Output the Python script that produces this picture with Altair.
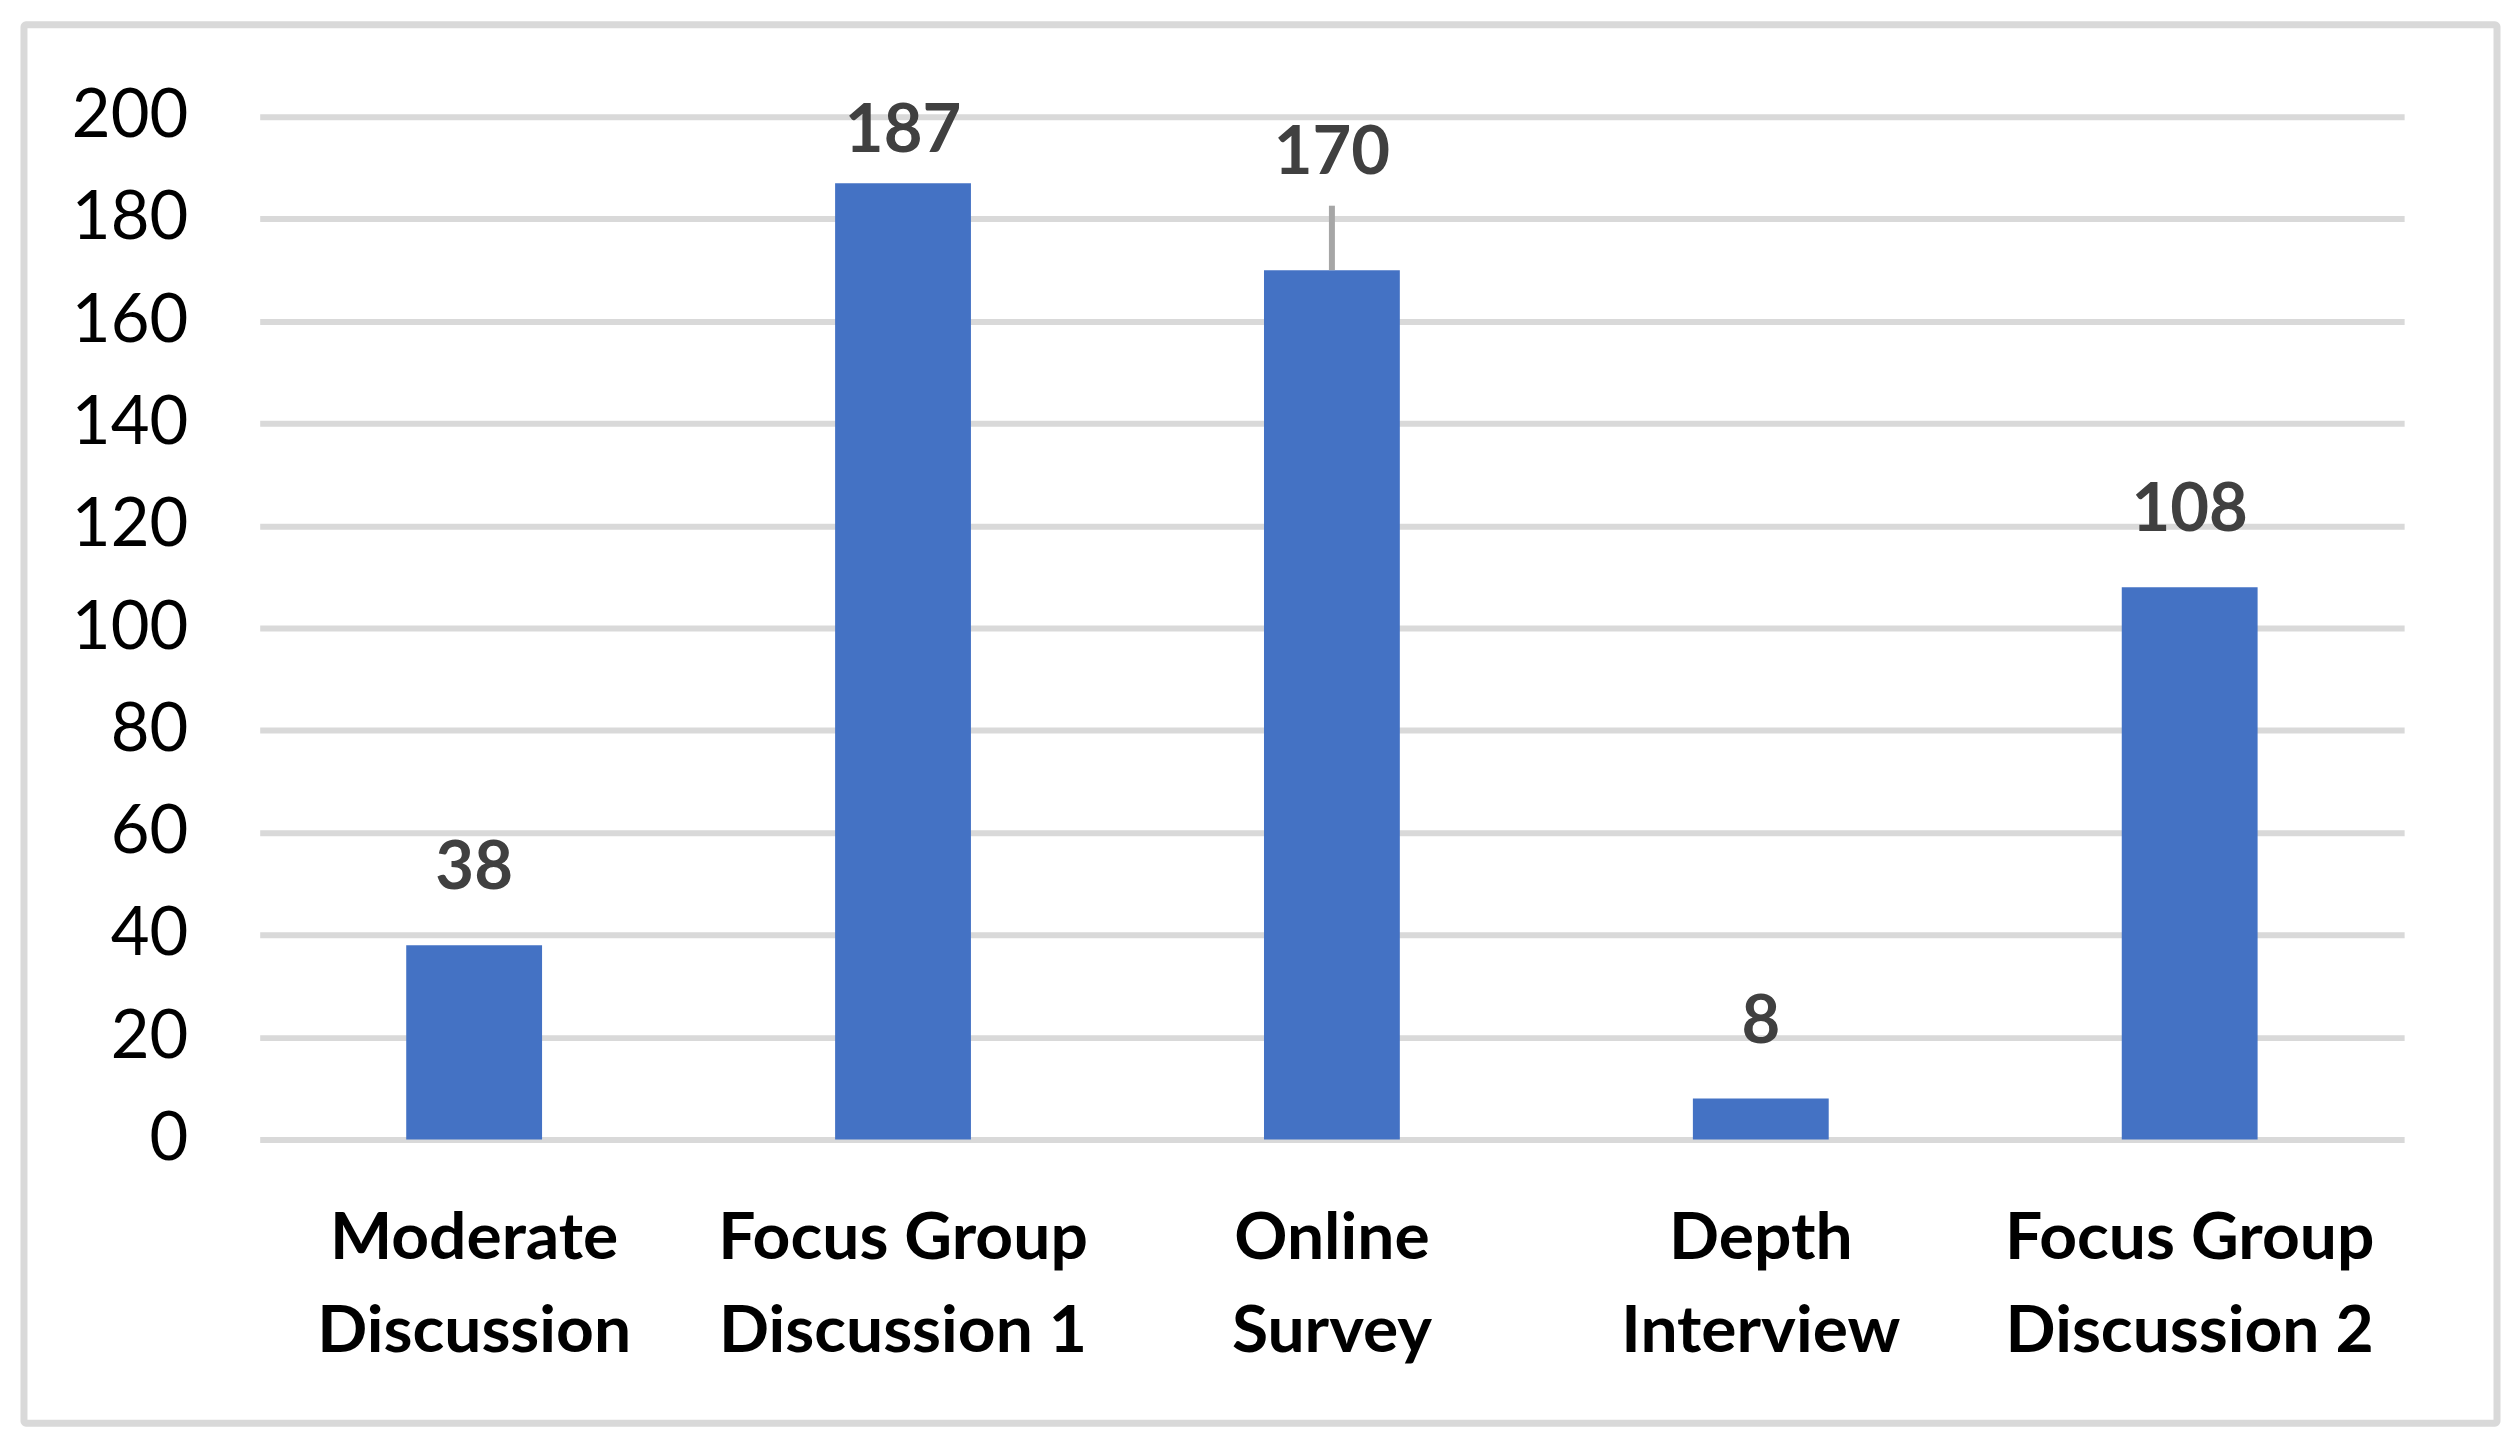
import altair as alt
import pandas as pd

categories = [
    "Moderate\nDiscussion",
    "Focus Group\nDiscussion 1",
    "Online\nSurvey",
    "Depth\nInterview",
    "Focus Group\nDiscussion 2",
]
values = [38, 187, 170, 8, 108]
y_ticks = [0, 20, 40, 60, 80, 100, 120, 140, 160, 180, 200]

df = pd.DataFrame({"category": categories, "value": values})

FONT = "Lato"
GRID = "#d9d9d9"

x_enc = alt.X(
    "category:N",
    sort=None,
    title=None,
    scale=alt.Scale(paddingInner=0, paddingOuter=0),
    axis=alt.Axis(
        labelAngle=0,
        labelExpr="split(datum.label, '\\n')",
        labelFont=FONT,
        labelFontSize=66,
        labelFontWeight="bold",
        labelColor="#000000",
        labelLineHeight=93,
        labelBaseline="top",
        labelPadding=67,
        labelLimit=1000,
        labelOverlap=False,
        ticks=False,
        tickSize=0,
        domain=False,
        grid=False,
    ),
)
y_enc = alt.Y(
    "value:Q",
    title=None,
    scale=alt.Scale(domain=[0, 200], nice=False, zero=True),
    axis=alt.Axis(
        values=y_ticks,
        labelFont=FONT,
        labelFontSize=67,
        labelColor="#000000",
        labelPadding=72,
        ticks=False,
        tickSize=0,
        domain=False,
        grid=True,
        gridColor=GRID,
        gridWidth=6,
    ),
)

base = alt.Chart(df)

bars = base.mark_bar(color="#4472c4", size=136).encode(x=x_enc, y=y_enc)

text_common = dict(
    font=FONT,
    fontSize=67,
    fontWeight="bold",
    color="#404040",
    baseline="alphabetic",
    align="center",
)

labels_normal = (
    base.transform_filter("datum.value != 187 && datum.value != 170")
    .mark_text(dy=-56, **text_common)
    .encode(x=alt.X("category:N", sort=None), y="value:Q", text="value:Q")
)
labels_187 = (
    base.transform_filter("datum.value == 187")
    .mark_text(dy=-31, **text_common)
    .encode(x=alt.X("category:N", sort=None), y="value:Q", text="value:Q")
)
labels_170 = (
    base.transform_filter("datum.value == 170")
    .mark_text(dy=-96, **text_common)
    .encode(x=alt.X("category:N", sort=None), y="value:Q", text="value:Q")
)
leader = (
    base.transform_filter("datum.value == 170")
    .transform_calculate(top="datum.value + 12.6")
    .mark_rule(color="#a6a6a6", strokeWidth=6)
    .encode(x=alt.X("category:N", sort=None), y="value:Q", y2="top:Q")
)

frame = (
    alt.Chart(alt.Data(values=[{"f": 1}]))
    .mark_rect(filled=False, stroke=GRID, strokeWidth=7, cornerRadius=2)
    .encode(
        x=alt.value(-236),
        x2=alt.value(2240),
        y=alt.value(-92),
        y2=alt.value(1308),
    )
)

chart = (
    alt.layer(frame, bars, leader, labels_normal, labels_187, labels_170)
    .properties(
        width=2147,
        height=1024,
        autosize=alt.AutoSizeParams(type="none"),
        padding={"left": 252, "top": 108, "right": 105, "bottom": 300},
        background="#ffffff",
    )
    .configure_view(stroke=None)
)

chart.save("out.html", embed_options={"renderer": "svg", "actions": False})
